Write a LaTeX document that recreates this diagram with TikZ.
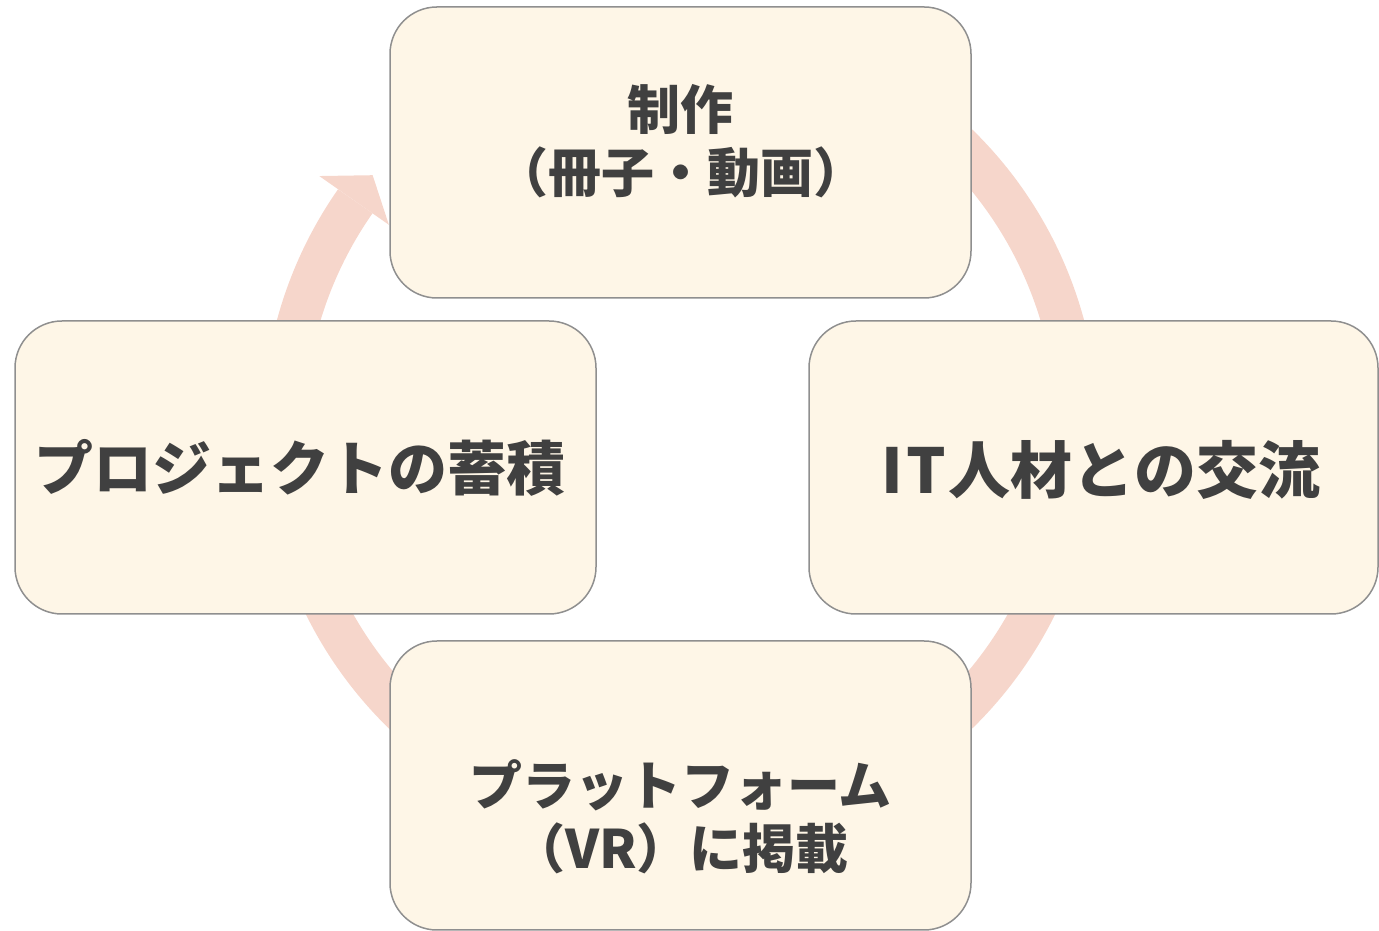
\documentclass[tikz,border=0pt]{standalone}
\usepackage{fontspec}
\newfontfamily\jp{Noto Sans CJK JP}
\definecolor{ringc}{HTML}{F6D6CB}
\definecolor{boxfill}{HTML}{FEF6E7}
\definecolor{boxline}{HTML}{8F8F8F}
\definecolor{txt}{HTML}{404040}
\begin{document}
\begin{tikzpicture}[x=1pt,y=1pt,
  cbox/.style={draw=boxline, line width=1.5pt, fill=boxfill, rounded corners=47pt, inner sep=0pt},
  lbl/.style={text=txt, font=\jp\bfseries, align=center, inner sep=0pt},
  smalltxt/.style={lbl, font=\jp\bfseries\fontsize{53}{63}\selectfont},
  bigtxt/.style={lbl, font=\jp\bfseries\fontsize{59}{66}\selectfont},
  hugetxt/.style={lbl, font=\jp\bfseries\fontsize{62}{68}\selectfont}]
\useasboundingbox (0,0) rectangle (1379,931);
\coordinate (c) at (680.5,502);
% ring arrow
\draw[ringc, line width=42pt] ([shift={(60:397pt)}]c) arc[start angle=60, end angle=-215, radius=397pt];
\fill[ringc] ([shift={(145:441pt)}]c) -- ([shift={(140.5:399pt)}]c) -- ([shift={(145:356pt)}]c) -- cycle;
% boxes
\node[cbox, minimum width=581pt, minimum height=291pt] (topbox) at (680.5,778.5) {};
\node[cbox, minimum width=581pt, minimum height=293pt] (leftbox) at (305.5,463.5) {};
\node[cbox, minimum width=569pt, minimum height=293pt] (rightbox) at (1093.5,463.5) {};
\node[cbox, minimum width=581pt, minimum height=289pt] (bottombox) at (680.5,145.5) {};
% texts
\node[smalltxt] (toptext) at (680.5,790) {制作\\（冊子・動画）};
\node[bigtxt] (lefttext) at (300,463) {プロジェクトの蓄積};
\node[hugetxt] (righttext) at (1101,461) {I\kern3pt T\kern3pt 人材との交流};
\node[smalltxt] (bottomtext) at (680.5,114.5) {プラットフォーム\\（VR）に掲載};
\end{tikzpicture}
\end{document}
